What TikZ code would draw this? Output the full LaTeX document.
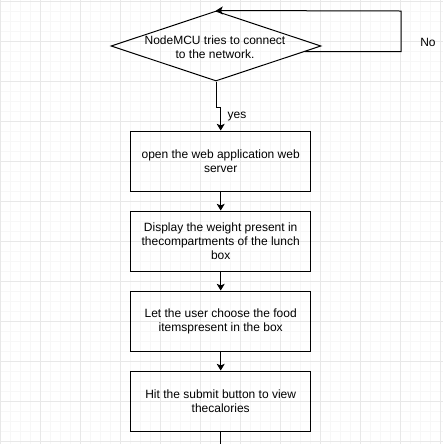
\documentclass[tikz,border=0pt]{standalone}
\usepackage{fontspec}
\setmainfont{Liberation Sans}
\usetikzlibrary{shapes.geometric,arrows.meta,calc}
\definecolor{gmin}{HTML}{F7F7F7}
\definecolor{gmaj}{HTML}{E8E8E8}
\tikzset{
  gridminor/.style={draw=gmin,line width=0.6pt},
  gridmajor/.style={draw=gmaj,line width=0.6pt},
  stepbox/.style={draw,line width=0.75pt,minimum width=135pt,minimum height=45pt,inner sep=0pt,align=center,font=\fontsize{9}{10.4}\selectfont},
  decbox/.style={diamond,draw,line width=0.75pt,minimum width=157.5pt,minimum height=52.5pt,inner sep=0pt},
  txt/.style={align=center,inner sep=0pt,font=\fontsize{9}{10.4}\selectfont},
  arr/.style={line width=0.75pt,-{Stealth[length=5pt,width=6pt,inset=1.2pt]}},
  ln/.style={line width=0.75pt}
}
\begin{document}
\begin{tikzpicture}[x=0.75pt,y=-0.75pt]
\fill[white] (0,0) rectangle (443,444);
\useasboundingbox (0,0) rectangle (443,444);
\foreach \x in {10,20,...,440} \draw[gridminor] (\x,0) -- (\x,444);
\foreach \y in {1,11,...,441} \draw[gridminor] (0,\y) -- (443,\y);
\foreach \x in {0,40,...,440} \draw[gridmajor] (\x,0) -- (\x,444);
\foreach \y in {1,41,...,441} \draw[gridmajor] (0,\y) -- (443,\y);

\node[decbox] (dec) at (216,46) {};
\node[txt] (dect) at (215,47.5) {NodeMCU tries to connect\\to the network.};

\node[stepbox] (b1) at (220.7,161) {open the web application web\\server};
\node[stepbox] (b2) at (220.7,241) {Display the weight present in\\thecompartments of the lunch\\box};
\node[stepbox] (b3) at (220.7,321) {Let the user choose the food\\itemspresent in the box};
\node[stepbox] (b4) at (220.7,401) {Hit the submit button to view\\thecalories};

\coordinate (lp) at ($(dec.east)!0.16!(dec.south)$);
\coordinate (lc) at (401,11);
\draw[arr] (lp) -- (lp -| lc) -- (lc) -- (dec.north);
\node[txt] (no) at (428,42) {No};

\coordinate (jog) at ($(dec.south)+(0,26)$);
\draw[arr] (dec.south) -- (jog) -| (b1.north);
\node[txt] (yes) at (237,117) {yes};

\draw[arr] (b1.south) -- (b2.north);
\draw[arr] (b2.south) -- (b3.north);
\draw[arr] (b3.south) -- (b4.north);
\coordinate (endp) at (220.7,444);
\draw[ln] (b4.south) -- (endp);
\end{tikzpicture}
\end{document}
